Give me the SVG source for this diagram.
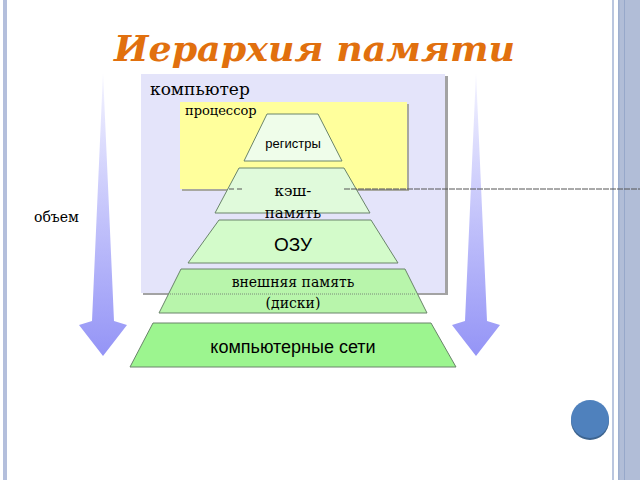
<svg xmlns="http://www.w3.org/2000/svg" width="640" height="480" viewBox="0 0 640 480">
<defs>
<linearGradient id="arrowGrad" x1="0" y1="0" x2="0" y2="1">
<stop offset="0" stop-color="#f4f4ff"/>
<stop offset="0.5" stop-color="#c4c4fb"/>
<stop offset="1" stop-color="#9494f6"/>
</linearGradient>
<style>
.trap{stroke:#6a846a;stroke-width:1}
.serif{font-family:"DejaVu Serif","Liberation Serif",serif;fill:#000}
.sans{font-family:"Liberation Sans",Arial,sans-serif;fill:#000}
</style>
</defs>
<rect width="640" height="480" fill="#ffffff"/>
<g id="frame">
<rect x="3" y="0" width="4" height="480" fill="#b4bfdc"/>
<rect x="612" y="0" width="2" height="480" fill="#bac6df"/>
<rect x="618" y="0" width="22" height="480" fill="#b1bdd7"/>
<rect x="618" y="0" width="1.5" height="480" fill="#9fb0d0"/>
<rect x="624" y="0" width="1" height="480" fill="#97a8ca"/>
</g>
<text id="title" x="114" y="61" textLength="401" lengthAdjust="spacingAndGlyphs" font-family="'DejaVu Serif','Liberation Serif',serif" font-weight="bold" font-style="italic" font-size="36" fill="#e1700e">Иерархия памяти</text>
<g id="arrow-left">
<polygon points="103,73 114,321 127,325 103,356 79,325 92,321" fill="url(#arrowGrad)"/>
</g>
<g id="arrow-right">
<polygon points="476,73 487,321 500,325 476,356 452,325 465,321" fill="url(#arrowGrad)"/>
</g>
<text id="volume" class="serif" x="34" y="222" font-size="14">объем</text>
<g id="computer">
<rect x="143" y="76" width="305" height="219" fill="#a3a3a3"/>
<rect x="141" y="74" width="304" height="219" fill="#e4e4fa"/>
<text class="serif" x="150" y="95" font-size="17">компьютер</text>
</g>
<g id="processor">
<rect x="182" y="104" width="227" height="87" fill="#a8a8a0"/>
<rect x="180" y="102" width="227" height="87" fill="#ffff9c"/>
<text class="serif" x="185" y="115" font-size="13">процессор</text>
</g>
<g id="registers">
<polygon class="trap" points="267,114 318,114 342,161 244,161" fill="#effdea"/>
<text class="sans" x="293" y="148" font-size="13" text-anchor="middle">регистры</text>
</g>
<g id="cache">
<polygon class="trap" points="239,168 344,168 370,213 215,213" fill="#e0fadb"/>
<text class="serif" x="293" y="196" font-size="15" text-anchor="middle">кэш-</text>
<text class="serif" x="293" y="218" font-size="15" text-anchor="middle">память</text>
</g>
<g id="connectors">
<line x1="229" y1="189" x2="244" y2="189" stroke="#555" stroke-width="1" stroke-dasharray="5,3"/>
<line x1="344" y1="189" x2="640" y2="189" stroke="#555" stroke-width="1" stroke-dasharray="6,1"/>
</g>
<g id="ram">
<polygon class="trap" points="219,220 371,220 398,263 188,263" fill="#d3fbca"/>
<text class="sans" x="293" y="251" font-size="19" text-anchor="middle">ОЗУ</text>
</g>
<g id="external">
<polygon class="trap" points="181,269 405,269 427,313 159,313" fill="#b8f5ab"/>
<line x1="170" y1="294" x2="416" y2="294" stroke="#7a8a7a" stroke-width="1" stroke-dasharray="1,1"/>
<text class="serif" x="293" y="287" font-size="14" text-anchor="middle">внешняя память</text>
<text class="serif" x="293" y="308" font-size="14" text-anchor="middle">(диски)</text>
</g>
<g id="networks">
<polygon class="trap" points="153,323 431,323 456,367 130,367" fill="#9cf58f"/>
<text class="sans" x="293" y="353" font-size="18" text-anchor="middle">компьютерные сети</text>
</g>
<g id="button">
<circle cx="590" cy="421" r="19" fill="#3d648f"/>
<circle cx="590" cy="419" r="19" fill="#4f81bd"/>
</g>
</svg>
